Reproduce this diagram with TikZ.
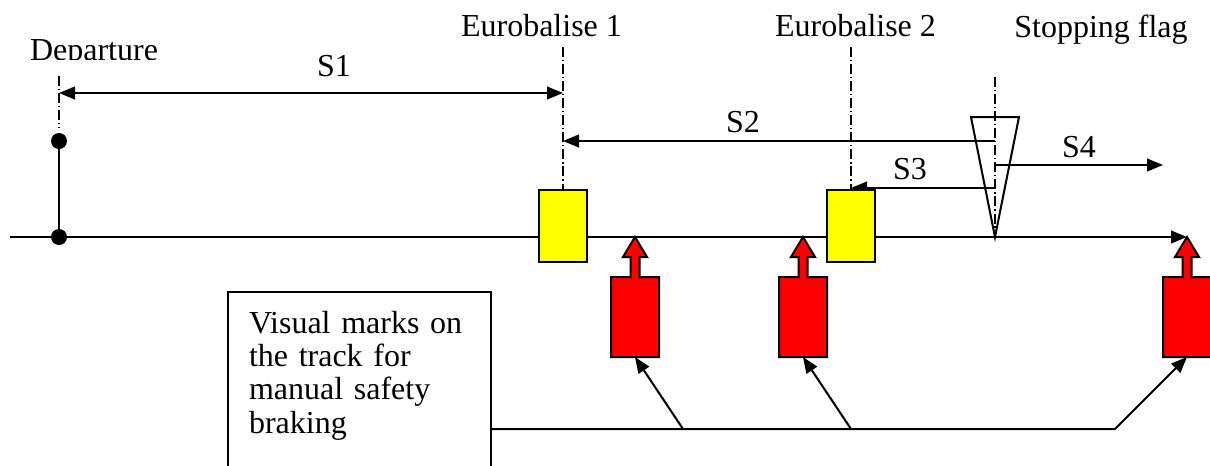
\documentclass[tikz,border=0pt]{standalone}
\usepackage{fontspec}
\setmainfont{Liberation Serif}
\definecolor{baliseyellow}{RGB}{255,255,0}
\definecolor{markred}{RGB}{255,0,0}
\usetikzlibrary{arrows.meta}
\tikzset{
  txt/.style={font=\fontsize{24}{25}\selectfont,inner sep=0pt,anchor=base},
  rail/.style={line width=1.5pt},
  refline/.style={line width=0.9pt,dash pattern=on 7.5pt off 2.2pt on 0.9pt off 2.2pt},
  depdot/.style={circle,fill=black,inner sep=0pt,minimum size=12pt},
  balise/.style={draw,line width=1.5pt,fill=baliseyellow,inner sep=0pt,
                 minimum width=36pt,minimum height=54pt},
  trackmark/.style={draw,line width=1.5pt,fill=markred},
  notebox/.style={draw,line width=1.5pt,anchor=north west,align=left,
                  font=\fontsize{24}{25}\selectfont,text width=165.75pt,
                  inner xsep=15.75pt,inner ysep=0pt,text height=30.75pt,text depth=150pt}
}

\begin{document}
\begin{tikzpicture}[x=0.75pt,y=-0.75pt,>={Triangle[length=12pt,width=9.5pt]}]
  \useasboundingbox (0,0) rectangle (1210,465);

  % track
  \coordinate (trackL) at (10,237);
  \coordinate (trackR) at (1187,237);
  \draw[rail,->] (trackL) -- (trackR);

  % departure
  \node[depdot] (deptop) at (59,141) {};
  \node[depdot] (depbot) at (59,237) {};
  \draw[rail] (deptop) -- (depbot);
  \coordinate (depref) at (59,76);
  \draw[refline,shorten >=4pt] (depref) -- (deptop.north);
  \begin{scope}
    \clip (0,0) rectangle (200,59);
    \node[txt] (deplbl) at (94,60) {Departure};
  \end{scope}

  % balises and stopping flag
  \coordinate (bal1ref) at (563,47);
  \coordinate (bal2ref) at (851,47);
  \coordinate (flagref) at (995,77);
  \coordinate (flagtip) at (995,237);
  \node[txt] (bal1lbl) at (541.5,36) {Eurobalise 1};
  \node[txt] (bal2lbl) at (855.5,36) {Eurobalise 2};
  \node[txt] (flaglbl) at (1101,37) {Stopping flag};

  % distances
  \coordinate (s1a) at (59,93);
  \coordinate (s1b) at (563,93);
  \coordinate (s2a) at (995,141);
  \coordinate (s2b) at (563,141);
  \coordinate (s3a) at (995,188);
  \coordinate (s3b) at (851,188);
  \coordinate (s4a) at (995,165);
  \coordinate (s4b) at (1163,165);
  \draw[rail,<->] (s1a) -- (s1b);
  \draw[rail,->] (s2a) -- (s2b);
  \draw[rail,->] (s3a) -- (s3b);
  \draw[rail,->] (s4a) -- (s4b);
  \node[txt] (s1lbl) at (334,76) {S1};
  \node[txt] (s2lbl) at (743,132) {S2};
  \node[txt] (s3lbl) at (910,179) {S3};
  \node[txt] (s4lbl) at (1079,157) {S4};

  \node[balise] (bal1) at (563,225.5) {};
  \node[balise] (bal2) at (851,225.5) {};
  \draw[refline] (bal1ref) -- (bal1.north);
  \draw[refline] (bal2ref) -- (bal2.north);
  \draw[rail] (971,117) -- (1019,117) -- (flagtip) -- cycle;
  \draw[refline] (flagref) -- (flagtip);

  % marks beside the track
  \foreach \x [count=\i] in {635,803,1187}{
    \draw[trackmark] (\x-24,357) -- (\x-24,277) -- (\x-4.5,277) -- (\x-4.5,257)
      -- (\x-12,257) -- (\x,237) -- (\x+12,257) -- (\x+4.5,257) -- (\x+4.5,277)
      -- (\x+24,277) -- (\x+24,357) -- cycle;
    \coordinate (mark\i) at (\x,357);
  }

  \node[notebox] (note) at (227,291) {Visual marks on\\the track for\\manual safety\\braking};
  \coordinate (hub1) at (683,429);
  \coordinate (hub2) at (851,429);
  \coordinate (hub3) at (1115,429);
  \draw[rail,->] (hub3 -| note.east) -- (hub3) -- (mark3);
  \draw[rail,->] (hub1) -- (mark1);
  \draw[rail,->] (hub2) -- (mark2);
\end{tikzpicture}
\end{document}
